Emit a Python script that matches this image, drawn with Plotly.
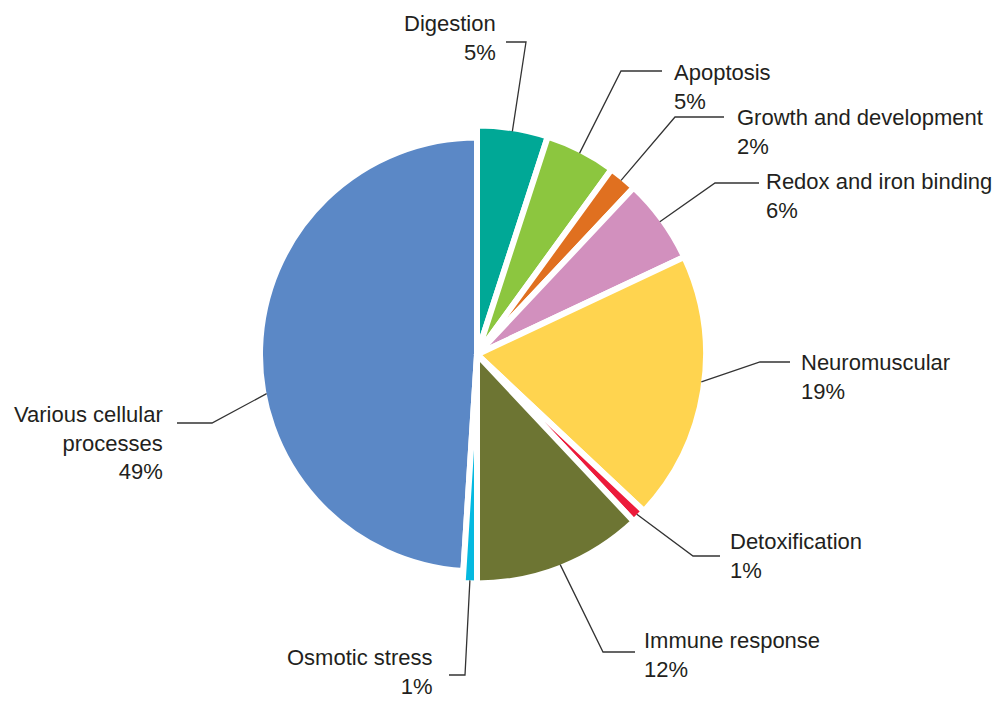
import math
import plotly.graph_objects as go

# ---------------- data ----------------
labels = ["Digestion", "Apoptosis", "Growth and development", "Redox and iron binding",
          "Neuromuscular", "Detoxification", "Immune response", "Osmotic stress",
          "Various cellular processes"]
values = [5, 5, 2, 6, 19, 1, 12, 1, 49]
display_names = ["Digestion", "Apoptosis", "Growth and development", "Redox and iron binding",
                 "Neuromuscular", "Detoxification", "Immune response", "Osmotic stress",
                 "Various cellular<br>processes"]
colors = ["#00A896", "#8CC63F", "#E07020", "#D290BE", "#FFD44F",
          "#EC1B3B", "#6D7533", "#05B9E0", "#5B88C6"]

# ---------------- layout constants ----------------
W, H = 1001, 703
CX, CY = 477, 354.5          # pie centre (px)
R_MAIN = 229                 # radius of the pie (px)
R_SMALL = 217                # radius of the big "various" slice (px)
STROKE = 6
SMALL_IDX = 8                # the slice drawn with the smaller radius
TXT_COLOR = "#231F20"
LINE_COLOR = "#333333"
FONT = dict(family="Liberation Sans, Arial, sans-serif", size=22, color=TXT_COLOR)

# label placement: anchor fraction inside slice, elbow px, line end px, text side, text x, text centre y
label_layout = [
    (0.50, (526, 42), (506, 42), "right", 497, 38),
    (0.50, (621, 71), (662, 71), "left", 673, 87),
    (0.50, (675, 117), (724, 117), "left", 736, 132),
    (0.50, (715, 183), (759, 183), "left", 765, 196),
    (0.47, (760, 362), (790, 362), "left", 800, 377),
    (0.50, (693, 556), (720, 556), "left", 729, 556),
    (0.50, (603, 652), (635, 652), "left", 643, 655),
    (0.50, (465, 675), (449, 675), "right", 433, 672),
    (0.43, (212, 423), (177, 423), "right", 164, 443),
]


def px_to_paper(x, y):
    return x / W, 1 - y / H


def domain_for(r):
    return dict(x=[(CX - r) / W, (CX + r) / W], y=[1 - (CY + r) / H, 1 - (CY - r) / H])


transparent = "rgba(0,0,0,0)"
colors_small = [c if i == SMALL_IDX else transparent for i, c in enumerate(colors)]
colors_main = [transparent if i == SMALL_IDX else c for i, c in enumerate(colors)]
widths_small = [STROKE if i == SMALL_IDX else 0 for i in range(len(values))]
widths_main = [0 if i == SMALL_IDX else STROKE for i in range(len(values))]

fig = go.Figure()
for cols, widths, r in [(colors_small, widths_small, R_SMALL), (colors_main, widths_main, R_MAIN)]:
    fig.add_trace(go.Pie(
        labels=labels, values=values, sort=False, direction="clockwise", rotation=0,
        marker=dict(colors=cols, line=dict(color="white", width=widths)),
        textinfo="none", hoverinfo="skip", showlegend=False,
        domain=domain_for(r),
    ))

# leader lines and labels, anchored on the slice geometry
total = sum(values)
cum = 0
shapes = []
annotations = []
for i, v in enumerate(values):
    frac, elbow, end, side, tx, ty = label_layout[i]
    ang = 2 * math.pi * (cum + frac * v) / total
    cum += v
    rv = (R_SMALL if i == SMALL_IDX else R_MAIN) - STROKE / 2
    ax = CX + rv * math.sin(ang)
    ay = CY - rv * math.cos(ang)
    p0 = px_to_paper(ax, ay)
    p1 = px_to_paper(*elbow)
    p2 = px_to_paper(*end)
    shapes.append(dict(type="path", xref="paper", yref="paper",
                       path=f"M {p0[0]},{p0[1]} L {p1[0]},{p1[1]} L {p2[0]},{p2[1]}",
                       line=dict(color=LINE_COLOR, width=1.3)))
    txp = px_to_paper(tx, ty)
    annotations.append(dict(
        x=txp[0], y=txp[1], xref="paper", yref="paper",
        text=f"{display_names[i]}<br>{v}%", showarrow=False,
        xanchor="left" if side == "left" else "right", yanchor="middle",
        align="left" if side == "left" else "right",
        font=FONT, borderpad=0,
    ))

fig.update_layout(
    width=W, height=H, margin=dict(l=0, r=0, t=0, b=0),
    paper_bgcolor="white", plot_bgcolor="white",
    shapes=shapes, annotations=annotations,
)

fig.write_html("out.html")
